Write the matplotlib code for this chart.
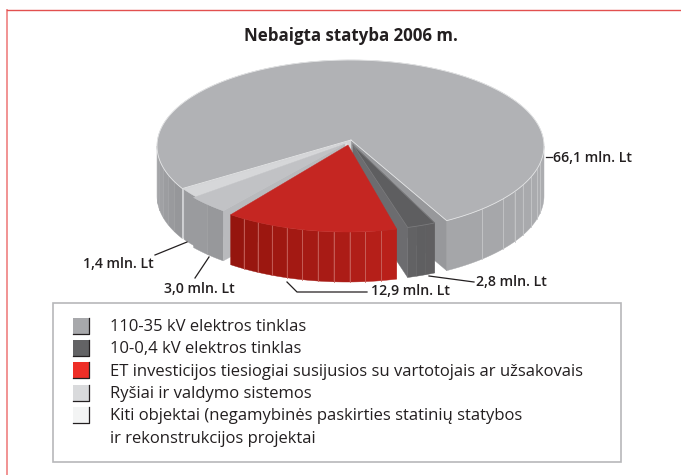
import numpy as np
import matplotlib
matplotlib.use("Agg")
import matplotlib.pyplot as plt
from matplotlib.patches import Polygon, Rectangle

plt.rcParams["font.family"] = ["Open Sans", "DejaVu Sans"]

TITLE = "Nebaigta statyba 2006 m."
slice_values = [2.8, 12.9, 3.0, 1.4, 66.1]
value_labels = ["2,8 mln. Lt", "12,9 mln. Lt", "3,0 mln. Lt", "1,4 mln. Lt", "66,1 mln. Lt"]
legend_labels = [
    "110-35 kV elektros tinklas",
    "10-0,4 kV elektros tinklas",
    "ET investicijos tiesiogiai susijusios su vartotojais ar užsakovais",
    "Ryšiai ir valdymo sistemos",
    "Kiti objektai (negamybinės paskirties statinių statybos",
    "ir rekonstrukcijos projektai",
]
legend_colors = ["#a7a8ab", "#636365", "#ee2e27", "#d9dadc", "#f3f4f4"]

RX, RY, DEPTH = 193.5, 86, 50
START = 63.4


def rim(center, angle):
    angle = np.radians(angle)
    return np.column_stack([center[0] + RX * np.cos(angle), center[1] + RY * np.sin(angle)])


def draw_side(axis, center, edges, colors, rib_color=None, zorder=1):
    for i, color in enumerate(colors):
        top = rim(center, np.linspace(edges[i], edges[i + 1], 12))
        bottom = top[::-1] + [0, DEPTH]
        axis.add_patch(Polygon(np.vstack([top, bottom]), fc=color, ec=color, lw=0.3, zorder=zorder))
    if rib_color:
        for corner in rim(center, np.array(edges[1:-1])):
            axis.plot([corner[0]] * 2, [corner[1], corner[1] + DEPTH], color=rib_color, lw=0.6, zorder=zorder + 0.1)


def draw_wall(axis, apex, corner, color, zorder=1):
    apex = np.array(apex, float)
    corner = np.array(corner, float)
    pts = [apex, corner, corner + [0, DEPTH], apex + [0, DEPTH]]
    axis.add_patch(Polygon(pts, fc=color, ec=color, lw=0.3, zorder=zorder))


def draw_top(axis, apex, center, t0, t1, color, edge=None, zorder=2):
    arc = rim(center, np.linspace(t0, t1, 160))
    pts = np.vstack([[apex], arc])
    axis.add_patch(Polygon(pts, fc=color, ec=color, lw=0.3, zorder=zorder))
    if edge:
        axis.plot(pts[:, 0].tolist() + [pts[0, 0]], pts[:, 1].tolist() + [pts[0, 1]], color=edge, lw=0.6, zorder=zorder + 0.1)


fig = plt.figure(figsize=(6.81, 4.75), dpi=100)
ax = fig.add_axes([0, 0, 1, 1])
ax.set_xlim(0, 681)
ax.set_ylim(475, 0)
ax.axis("off")

# page frame
ax.plot([6.7, 6.7], [475, 9.5], color="#f08a8a", lw=1.3)
ax.plot([6.7, 681], [9.5, 9.5], color="#e2504f", lw=1.0)

ax.text(350.5, 36, TITLE, fontsize=12.2, fontweight="bold", color="#231f20", ha="center", va="center")

# slice angles come from the values
bounds = START + np.cumsum([0] + slice_values) / sum(slice_values) * 360
dark_t, red_t, grey_t, light_t, main_t = [(bounds[i], bounds[i + 1]) for i in range(5)]

# big slice
main_c = (350.5, 146)
main_apex = (351, 140)
main_from, main_to = main_t[0] + 3, main_t[1] - 3.2
right_edges = [0, 11.5, 15.4, 21, 27, 32, 38, 47, main_to - 360]
right_colors = ["#acadb0", "#abacaf", "#aaabae", "#a9aaad", "#a8a9ac", "#a7a8ab", "#a6a7aa", "#a5a6a9"]
draw_side(ax, main_c, right_edges, right_colors, "#c6c7c9")
left_colors = ["#96979a", "#999a9d", "#9c9da0", "#a0a1a4", "#a3a4a7", "#a7a8ab"]
draw_side(ax, main_c, np.linspace(main_from, 180, 7), left_colors)
draw_wall(ax, main_apex, rim(main_c, [main_to])[0], "#97989b", 1.2)
draw_wall(ax, main_apex, rim(main_c, [main_from])[0], "#d4d5d7", 1.2)
draw_top(ax, main_apex, main_c, main_from, main_to, "#b1b2b5", "#e4e5e6", 1.5)

# small slices at the left
light_c = (347, 143)
draw_side(ax, light_c, light_t, ["#9a9b9e"], zorder=3)
draw_wall(ax, light_c, rim(light_c, [light_t[0]])[0], "#e3e4e5", 3)
draw_top(ax, light_c, light_c, light_t[0], light_t[1], "#d6d7d9", zorder=3.2)

grey_c = (345, 144)
draw_side(ax, grey_c, np.linspace(grey_t[0], grey_t[1], 3), ["#97989b", "#9a9b9e"], zorder=4)
draw_wall(ax, grey_c, rim(grey_c, [grey_t[0]])[0], "#b9babd", 4)
draw_top(ax, grey_c, grey_c, grey_t[0], grey_t[1], "#c1c2c5", zorder=4.2)

# dark slice
dark_c = (353, 145)
dark_from, dark_to = dark_t[0] + 1.6, dark_t[1] - 1.5
draw_side(ax, dark_c, np.linspace(dark_from, dark_to, 4), ["#605f61", "#5f5f61", "#626264"], zorder=5)
draw_wall(ax, dark_c, rim(dark_c, [dark_to])[0], "#6c6c6f", 5)
draw_top(ax, dark_c, dark_c, dark_from, dark_to, "#5e5e60", "#7a7a7c", 5.2)

# red slice
red_c = (347, 146)
red_from, red_to = red_t[0], red_t[1] - 2
red_sides = ["#b9201a", "#b51f19", "#b01e18", "#ac1c16", "#a81b15", "#a51a14", "#a31913", "#9f1811", "#9c1710", "#98160f", "#95150e"]
draw_side(ax, red_c, np.linspace(red_from, red_to, len(red_sides) + 1), red_sides, "#c9655f", zorder=6)
draw_top(ax, (348, 145), red_c, red_from, red_to, "#c52622", zorder=6.2)

# leader lines
leaders_x = [[429, 474], [287, 297, 367], [209, 195], [187, 155], [545.5, 552]]
leaders_y = [[276, 282], [282, 292, 292], [257, 278], [242, 255], [157, 157]]
for xs, ys in zip(leaders_x, leaders_y):
    ax.plot(xs, ys, color="#231f20", lw=0.9, zorder=7)

label_x = [476, 371, 164, 83, 553]
label_y = [282, 291, 289, 264, 158]
for text, x, y in zip(value_labels, label_x, label_y):
    ax.text(x, y, text, fontsize=10.2, fontweight=600, color="#231f20", ha="left", va="center")

# legend
ax.add_patch(Rectangle((52.5, 302.5), 568, 159, fc="white", ec="#b7b8ba", lw=1.2))
swatch_y = [318, 340, 362, 385, 407]
for y, color in zip(swatch_y, legend_colors):
    ax.add_patch(Rectangle((73, y), 15.5, 15.5, fc=color, ec="none", zorder=3))
    ax.plot([88.7, 88.7, 73], [y, y + 15.7, y + 15.7], color="#231f20", lw=0.9, zorder=4)
text_y = [327, 349, 371.5, 394, 416.5, 439]
for text, y in zip(legend_labels, text_y):
    ax.text(110, y, text, fontsize=11.95, color="#231f20", ha="left", va="center")

fig.savefig("out.png", dpi=100)
